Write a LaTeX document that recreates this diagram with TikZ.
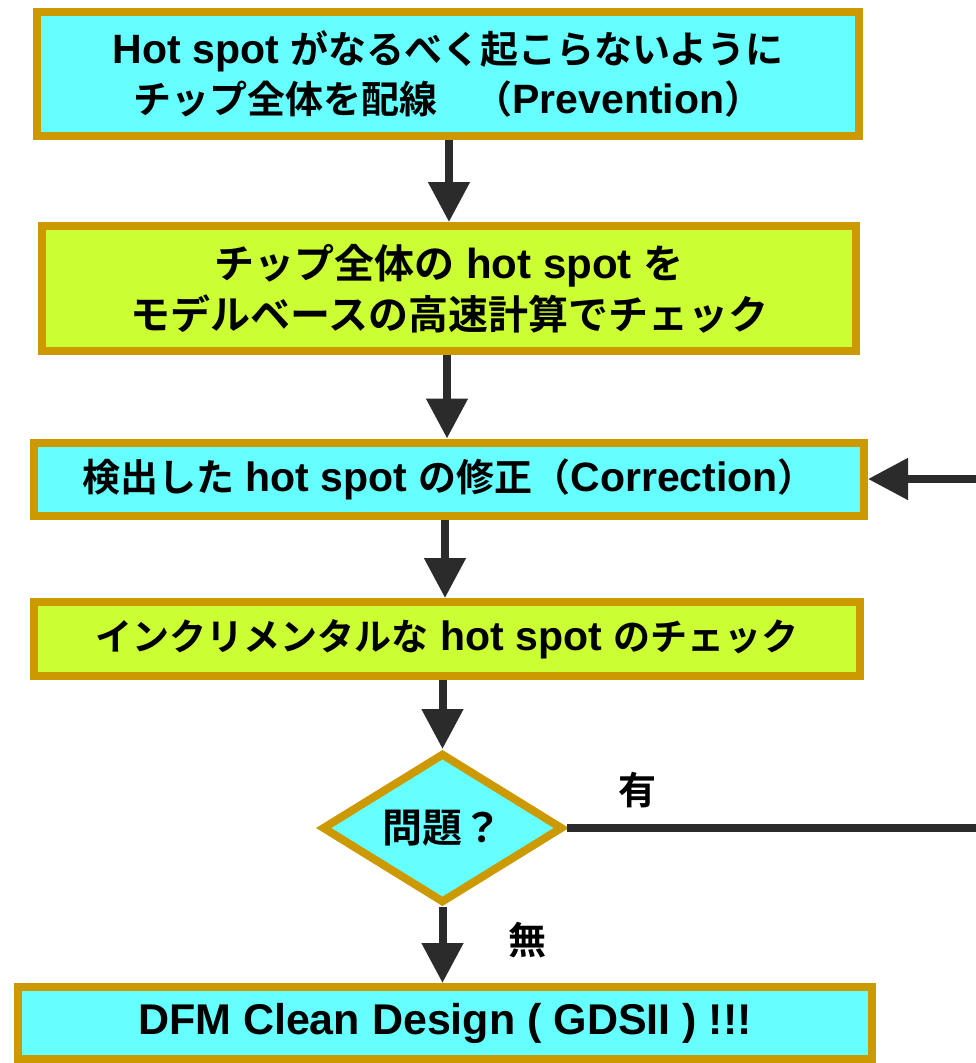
\documentclass[tikz,border=0pt]{standalone}
\usepackage{fontspec}
\setmainfont{Liberation Sans}
\newfontfamily\jpfont{Noto Sans CJK JP}[BoldFont={Noto Sans CJK JP Bold}]
\usetikzlibrary{shapes.geometric,arrows.meta}
\definecolor{cy}{HTML}{66FFFF}
\definecolor{yg}{HTML}{CCFF33}
\definecolor{bd}{HTML}{CC9900}
\definecolor{ar}{HTML}{2B2B2B}
\newcommand\jp[1]{{\jpfont\bfseries\fontsize{38}{52}\selectfont #1}}
\newcommand\jpb[1]{{\jpfont\bfseries\fontsize{40}{52}\selectfont #1}}
\newcommand\jps[1]{{\jpfont\bfseries\fontsize{37}{52}\selectfont #1}}
\begin{document}
\begin{tikzpicture}[x=1pt,y=-1pt,
  box/.style={draw=bd, line width=8pt, inner sep=0pt, align=center,
    font=\bfseries\fontsize{41}{52}\selectfont},
  arr/.style={draw=ar, line width=8pt, -{Triangle[length=40pt,width=40pt]}},
  lbl/.style={font=\bfseries, inner sep=0pt}]
\useasboundingbox (0,0) rectangle (976,1063);
\node[box, fill=cy, minimum width=822pt, minimum height=124pt] (b1) at (448,74)
  {Hot spot \jp{がなるべく起こらないように}\\[-2pt]\jp{チップ全体を配線}\hspace{0.9em}\jp{（}Prevention\jp{）}};
\node[box, fill=yg, minimum width=814pt, minimum height=125pt,
  font=\bfseries\fontsize{42}{53}\selectfont] (b2) at (449,288.5)
  {\jpb{チップ全体の} hot spot \jpb{を}\\[-2pt]\jpb{モデルベースの高速計算でチェック}};
\node[box, fill=cy, minimum width=830pt, minimum height=73pt] (b3) at (449,479)
  {\jp{検出した} hot spot \jp{の修正（}Correction\jp{）}};
\node[box, fill=yg, minimum width=826pt, minimum height=74pt] (b4) at (447,639)
  {\jps{インクリメンタルな} hot spot \jps{のチェック}};
\node[diamond, draw=bd, fill=cy, line width=8pt, inner sep=0pt,
  minimum width=241pt, minimum height=150pt,
  label={[lbl]center:\jpb{問題？}}] (d) at (442.5,828) {};
\node[box, fill=cy, minimum width=854pt, minimum height=72pt,
  font=\bfseries\fontsize{43}{52}\selectfont] (b5) at (445,1023)
  {DFM Clean Design ( GDSII ) !!!};
\node[lbl] (yes) at (637,790) {\jp{有}};
\node[lbl] (no) at (527,940) {\jp{無}};
\coordinate (x1) at (449,0);
\coordinate (x2) at (447,0);
\coordinate (x3) at (445,0);
\coordinate (fb) at (995,479);
\draw[arr] (b1.south -| x1) -- (b2.north -| x1);
\draw[arr] (b2.south -| x2) -- (b3.north -| x2);
\draw[arr] (b3.south -| x3) -- (b4.north -| x3);
\draw[arr] (b4.south -| d.north) -- (d.north);
\draw[arr] (d.south) -- (b5.north -| d.south);
\draw[arr] (d.east) -| (fb) -- (b3.east);
\end{tikzpicture}
\end{document}
